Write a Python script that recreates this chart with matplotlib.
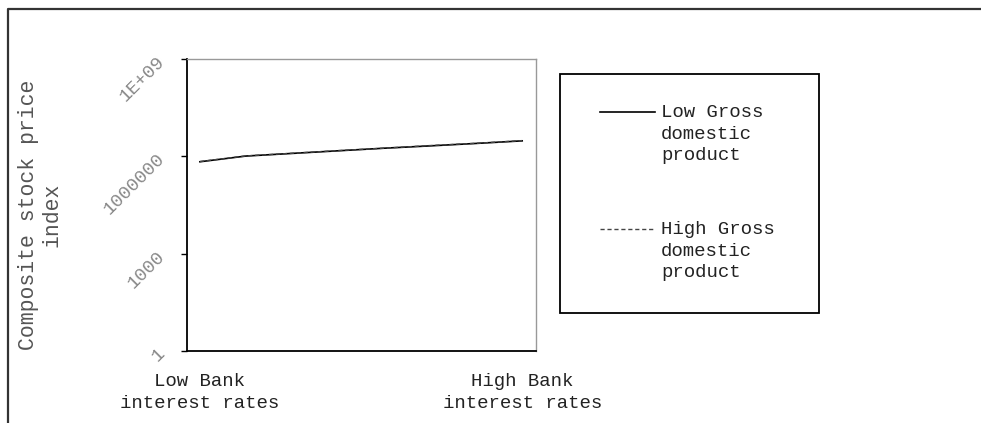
import numpy as np
import matplotlib
matplotlib.use('Agg')
import matplotlib.pyplot as plt
from matplotlib.lines import Line2D
from matplotlib.patches import Rectangle

# data (log scale)
x_labels = ['Low Bank\ninterest rates', 'High Bank\ninterest rates']
x_pos = [0, 1, 2, 3, 4, 5, 6, 7]
low_gdp = [6.8e5, 1.02e6, 1.23e6, 1.48e6, 1.78e6, 2.1e6, 2.5e6, 3.0e6]
high_gdp = [6.9e5, 1.03e6, 1.24e6, 1.5e6, 1.78e6, 2.15e6, 2.52e6, 3.05e6]
series_names = ['Low Gross\ndomestic\nproduct', 'High Gross\ndomestic\nproduct']
y_ticks = [1, 1000, 1000000, 1000000000]
y_tick_labels = ['1', '1000', '1000000', '1E+09']

plt.rcParams['font.family'] = ['Liberation Mono', 'DejaVu Sans']

fig = plt.figure(figsize=(9.81, 4.23), dpi=100)
ax = fig.add_axes([187/981, 1 - 351/423, (536 - 187)/981, (351 - 59)/423])

ax.plot(x_pos, low_gdp, color='black', lw=1.2, label=series_names[0])
ax.plot(x_pos, high_gdp, color='#444444', lw=1.0, ls=(0, (3, 2)), label=series_names[1])

ax.set_yscale('log')
ax.set_ylim(1, 1e9)
ax.set_xlim(-0.28, 7.30)
ax.set_yticks(y_ticks)
ax.set_yticklabels(y_tick_labels, rotation=45, ha='right', va='center',
                   rotation_mode='anchor', color='#888888', fontsize=13.5)
ax.minorticks_off()
ax.tick_params(axis='y', direction='out', length=4, width=1, pad=14)
ax.set_xticks([x_pos[0], x_pos[-1]])
ax.set_xticklabels(x_labels, fontsize=13.7, color='#222222', linespacing=1.35)
ax.tick_params(axis='x', length=0, pad=16)

for s in ['left', 'bottom']:
    ax.spines[s].set_linewidth(1.3)
    ax.spines[s].set_color('black')
for s in ['top', 'right']:
    ax.spines[s].set_linewidth(1.0)
    ax.spines[s].set_color('#999999')

fig.text(40/981, 1 - 215/423, 'Composite stock price\nindex', rotation=90,
         ha='center', va='center', fontsize=15.5, color='#555555', linespacing=1.15)

# legend without its own frame; box drawn separately
leg = ax.legend(loc='upper left', bbox_to_anchor=(600/981, 1 - 104/423),
                bbox_transform=fig.transFigure, fontsize=13.7, frameon=False,
                borderpad=0, labelspacing=3.0, handlelength=2.9, handletextpad=0.3,
                borderaxespad=0)
for t in leg.get_texts():
    t.set_color('#222222')
    t.set_linespacing(1.35)
# put the handle next to the first text line
for h in leg.legend_handles:
    h.set_ydata(np.asarray(h.get_ydata()) + 15.8)

fig.add_artist(Rectangle((560/981, 1 - 313/423), 259/981, 239/423,
                         transform=fig.transFigure, fill=False,
                         edgecolor='black', lw=1.3))

# outer border (top and left only visible)
fig.add_artist(Line2D([8/981, 8/981, 1], [0, 1 - 9/423, 1 - 9/423],
                      transform=fig.transFigure, color='#333333', lw=1.6))

fig.savefig('out.png', dpi=100)
